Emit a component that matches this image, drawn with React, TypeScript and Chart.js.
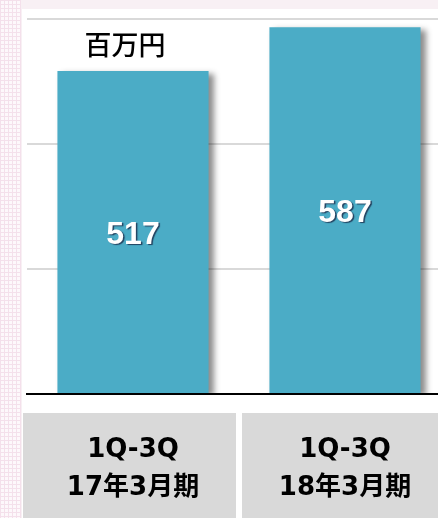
import { useEffect, useRef } from "react";
import { Chart, registerables } from "chart.js";

Chart.register(...registerables);

const categories: string[][] = [
  ["1Q-3Q", "17年3月期"],
  ["1Q-3Q", "18年3月期"],
];
const values: number[] = [517, 587];
const unitLabel = "百万円";
const yMin = 0;
const yMax = 600;
const yStep = 200;

const BAR_COLOR = "#4bacc6";

const decorPlugin = {
  id: "decor",
  beforeDraw(chart: any) {
    const { ctx, chartArea, scales } = chart;
    const xs = scales.x;
    const n = chart.data.labels.length;
    const step = n > 1 ? xs.getPixelForValue(1) - xs.getPixelForValue(0) : chartArea.width;
    const top = chartArea.bottom + 19;
    const bottom = chart.height;
    ctx.save();
    ctx.fillStyle = "#d9d9d9";
    for (let i = 0; i < n; i++) {
      const c = xs.getPixelForValue(i);
      const left = i === 0 ? chartArea.left - 4 : c - step / 2 + 3;
      const right = c + step / 2 - 3;
      ctx.fillRect(left, top, right - left, bottom - top);
    }
    ctx.restore();
  },
  beforeDatasetsDraw(chart: any) {
    const ctx = chart.ctx;
    ctx.save();
    ctx.shadowColor = "rgba(0,0,0,0.45)";
    ctx.shadowBlur = 6;
    ctx.shadowOffsetX = 5;
    ctx.shadowOffsetY = 3;
  },
  afterDatasetsDraw(chart: any) {
    const ctx = chart.ctx;
    ctx.restore();
    const meta = chart.getDatasetMeta(0);
    const data = chart.data.datasets[0].data;
    ctx.save();
    ctx.textAlign = "center";
    ctx.textBaseline = "middle";
    ctx.font = "bold 32px 'Liberation Sans', Arial, sans-serif";
    meta.data.forEach((bar: any, i: number) => {
      const cx = bar.x;
      const cy = (bar.y + bar.base) / 2 + 3;
      ctx.save();
      ctx.shadowColor = "rgba(20,30,60,0.75)";
      ctx.shadowBlur = 1;
      ctx.shadowOffsetX = 1.5;
      ctx.shadowOffsetY = 1.5;
      ctx.fillStyle = "#ffffff";
      ctx.fillText(String(data[i]), cx, cy);
      ctx.restore();
    });
    // unit label above the first bar
    const first = meta.data[0];
    if (first) {
      ctx.fillStyle = "#000000";
      ctx.font = "500 27px 'Noto Sans CJK JP', sans-serif";
      ctx.fillText(unitLabel, first.x - 8, first.y - 26);
    }
    ctx.restore();
  },
};

export default function App() {
  const canvasRef = useRef<HTMLCanvasElement | null>(null);

  useEffect(() => {
    if (!canvasRef.current) return;
    const chart = new Chart(canvasRef.current, {
      type: "bar",
      data: {
        labels: categories,
        datasets: [
          {
            data: values,
            backgroundColor: BAR_COLOR,
            borderWidth: 0,
            barPercentage: 0.713,
            categoryPercentage: 1,
          },
        ],
      },
      options: {
        animation: false,
        responsive: false,
        maintainAspectRatio: false,
        devicePixelRatio: 1,
        layout: { padding: { left: 5, right: 1, top: 10, bottom: 0 } },
        plugins: {
          legend: { display: false },
          tooltip: { enabled: false },
          title: { display: false },
        },
        scales: {
          x: {
            grid: { display: false, drawTicks: false },
            border: { display: true, color: "#000000", width: 2 },
            afterFit: (scale: any) => {
              scale.height = 124;
            },
            ticks: {
              padding: 37,
              color: "#000000",
              maxRotation: 0,
              autoSkip: false,
              font: {
                family: "'DejaVu Sans', 'Noto Sans CJK JP', sans-serif",
                size: 26,
                weight: "bold",
                lineHeight: "38px",
              },
            },
          },
          y: {
            min: yMin,
            max: yMax,
            ticks: { display: false, stepSize: yStep },
            grid: { color: "#d9d9d9", lineWidth: 2, drawTicks: false },
            border: { display: false },
          },
        },
      },
      plugins: [decorPlugin],
    });
    return () => chart.destroy();
  }, []);

  return (
    <div
      style={{
        position: "fixed",
        left: 0,
        top: 0,
        width: 438,
        height: 518,
        overflow: "hidden",
        background: "#f8f0f4",
      }}
    >
      <div
        style={{
          position: "absolute",
          left: 0,
          top: 0,
          width: 21,
          height: 518,
          backgroundColor: "#fdf8fb",
          backgroundImage:
            "linear-gradient(#f4e0eb 1px, transparent 1px), linear-gradient(90deg, #f4e0eb 1px, transparent 1px)",
          backgroundSize: "4px 4px",
        }}
      />
      <div
        style={{
          position: "absolute",
          left: 22,
          top: 9,
          width: 416,
          height: 509,
          background: "#ffffff",
          overflow: "hidden",
        }}
      >
        <canvas
          ref={canvasRef}
          width={430}
          height={509}
          style={{ display: "block", width: 430, height: 509 }}
        />
      </div>
    </div>
  );
}
